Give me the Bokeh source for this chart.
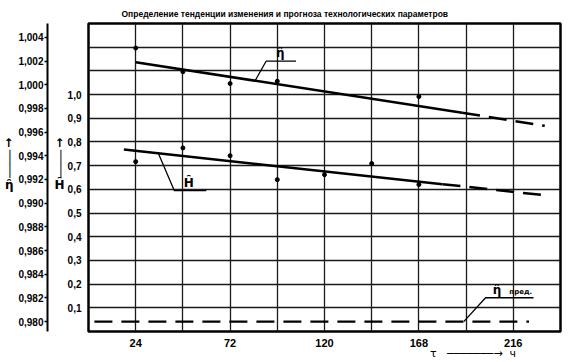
import numpy as np
from bokeh.plotting import figure
from bokeh.models import (Range1d, LinearAxis, FixedTicker, CustomJSTickFormatter, Label)
from bokeh.embed import file_html
from bokeh.resources import INLINE

# ---------------- data ----------------
title_text = "Определение тенденции  изменения и прогноза технологических параметров"
tau_ticks = [24, 72, 120, 168, 216]
tau_grid = [24, 48, 72, 96, 120, 144, 168, 192, 216]
eta_ticks = [0.980, 0.982, 0.984, 0.986, 0.988, 0.990, 0.992, 0.994, 0.996, 0.998, 1.000, 1.002, 1.004]
H_ticks = [0.1, 0.2, 0.3, 0.4, 0.5, 0.6, 0.7, 0.8, 0.9, 1.0]
H_grid = [0.1, 0.2, 0.3, 0.4, 0.5, 0.6, 0.7, 0.8, 0.9, 1.0, 1.1, 1.2]

# observed points
eta_obs_tau = [24, 48, 72, 96, 168]
eta_obs = [1.0031, 1.0011, 1.0001, 1.0003, 0.9990]
H_obs_tau = [24, 48, 72, 96, 120, 144, 168]
H_obs = [0.717, 0.775, 0.742, 0.641, 0.662, 0.709, 0.620]

# trend (solid) and forecast (dashed)
eta_trend_tau = [24, 190]
eta_trend = [1.0019, 0.99764]
eta_fc_tau = [190, 232]
eta_fc = [0.99764, 0.99653]
H_trend_tau = [18, 180]
H_trend = [0.768, 0.622]
H_fc_tau = [180, 232]
H_fc = [0.622, 0.575]
eta_limit_tau = [3, 224]
eta_limit = [0.980, 0.980]

# ---------------- figure ----------------
FONT = "Liberation Sans"
SYM = "DejaVu Sans"
NB = "\u00a0"
EM = "\u2003"
p = figure(width=571, height=362, output_backend="svg", toolbar_location=None,
           x_range=Range1d(0, 240), y_range=Range1d(0, 1.3),
           min_border_left=87, min_border_right=11, min_border_top=23, min_border_bottom=29)
p.extra_y_ranges = {"eta": Range1d(0.979161, 1.005175)}
p.outline_line_color = "black"
p.outline_line_width = 2.5
p.background_fill_color = "white"
p.border_fill_color = "white"

p.title.text = title_text
p.title.align = "left"
p.title.offset = 33
p.title.standoff = 10
p.title.text_font = FONT
p.title.text_font_style = "bold"
p.title.text_font_size = "8.5px"
p.title.text_color = "black"

p.xgrid.ticker = FixedTicker(ticks=tau_grid)
p.ygrid.ticker = FixedTicker(ticks=H_grid)
for g in (p.xgrid, p.ygrid):
    g.grid_line_color = "#1a1a1a"
    g.grid_line_width = 1.3

xa = p.xaxis[0]
xa.ticker = FixedTicker(ticks=tau_ticks)
xa.axis_line_color = None
xa.major_tick_out = 0
xa.major_tick_in = 0
xa.minor_tick_out = 0
xa.minor_tick_in = 0
xa.major_label_standoff = 7
xa.major_label_text_font = FONT
xa.major_label_text_font_style = "bold"
xa.major_label_text_font_size = "11px"
xa.major_label_text_color = "black"
xa.axis_label = EM * 27 + "\u03c4" + NB * 3 + "\u2500" * 7 + "\u2192" + NB * 2 + "ч"
xa.axis_label_align = "center"
xa.axis_label_standoff = -3
xa.axis_label_text_font = SYM
xa.axis_label_text_font_style = "normal"
xa.axis_label_text_font_size = "11px"
xa.axis_label_text_color = "black"

ya = p.yaxis[0]
ya.ticker = FixedTicker(ticks=H_ticks)
ya.formatter = CustomJSTickFormatter(code="return tick.toFixed(1).replace('.', ',')")
ya.axis_line_color = None
ya.major_tick_out = 0
ya.major_tick_in = 0
ya.minor_tick_out = 0
ya.minor_tick_in = 0
ya.major_label_standoff = 7
ya.major_label_text_font = FONT
ya.major_label_text_font_style = "bold"
ya.major_label_text_font_size = "10px"
ya.major_label_text_color = "black"
ya.axis_label = (NB + "\u2191\n" + NB + "\u2502\n" + NB + "\u2502\n" +
                 NB + "H\u0311\n" + NB + "\n" + NB)
ya.axis_label_orientation = "horizontal"
ya.axis_label_standoff = 0
ya.axis_label_text_font = SYM
ya.axis_label_text_font_style = "bold"
ya.axis_label_text_font_size = "12px"
ya.axis_label_text_line_height = 1.0
ya.axis_label_text_color = "black"

ea = LinearAxis(y_range_name="eta", ticker=FixedTicker(ticks=eta_ticks),
                formatter=CustomJSTickFormatter(code="return tick.toFixed(3).replace('.', ',')"))
ea.axis_line_color = "black"
ea.axis_line_width = 2
ea.major_tick_out = 3
ea.major_tick_in = 0
ea.minor_tick_out = 0
ea.minor_tick_in = 0
ea.major_tick_line_width = 1.5
ea.major_label_standoff = 1
ea.major_label_text_font = FONT
ea.major_label_text_font_style = "bold"
ea.major_label_text_font_size = "10px"
ea.major_label_text_color = "black"
ea.axis_label = "\u2191\n\u2502\n\u2502\n\u03b7\u0311\n" + NB + "\n" + NB
ea.axis_label_orientation = "horizontal"
ea.axis_label_standoff = 2
ea.axis_label_text_font = SYM
ea.axis_label_text_font_style = "bold"
ea.axis_label_text_font_size = "12px"
ea.axis_label_text_line_height = 1.0
ea.axis_label_text_color = "black"
p.add_layout(ea, "left")

# ---------------- marks ----------------
p.line(eta_trend_tau, eta_trend, y_range_name="eta", line_color="black", line_width=2.5)
p.line(eta_fc_tau, eta_fc, y_range_name="eta", line_color="black", line_width=2.5, line_dash="18 9")
p.line(H_trend_tau, H_trend, line_color="black", line_width=2.5)
p.line(H_fc_tau, H_fc, line_color="black", line_width=2.5, line_dash="18 9")
p.line(eta_limit_tau, eta_limit, y_range_name="eta", line_color="black", line_width=2.2, line_dash="18 9")
p.scatter(eta_obs_tau, eta_obs, y_range_name="eta", size=4, color="black")
p.scatter(H_obs_tau, H_obs, size=4, color="black")

# ---------------- callouts ----------------
def callout(anchor_tau, tr_tau, tr_val, elbow, end_tau, rng):
    ay = float(np.interp(anchor_tau, tr_tau, tr_val))
    kw = {"y_range_name": rng} if rng != "default" else {}
    p.line([anchor_tau, elbow[0], end_tau], [ay, elbow[1], elbow[1]],
           line_color="black", line_width=1.3, **kw)

callout(84.7, eta_trend_tau, eta_trend, (90.3, 1.00199), 105.5, "eta")
callout(35.5, H_trend_tau, H_trend, (43.6, 0.595), 59.9, "default")
callout(190.8, eta_limit_tau, eta_limit, (201.9, 0.98201), 226.3, "eta")

lab_kw = dict(text_font=SYM, text_font_style="bold", text_color="black")
p.add_layout(Label(x=97.5, y=1.00199, y_range_name="eta", text="\u03b7\u0311", text_align="center",
                   text_baseline="bottom", y_offset=1, text_font_size="12px", **lab_kw))
p.add_layout(Label(x=51, y=0.595, text="H\u0311", text_align="center",
                   text_baseline="bottom", y_offset=1, text_font_size="12px", **lab_kw))
p.add_layout(Label(x=205.5, y=0.98201, y_range_name="eta", text="\u03b7\u0311", text_align="left",
                   text_baseline="bottom", y_offset=1, text_font_size="12px", **lab_kw))
p.add_layout(Label(x=214, y=0.98201, y_range_name="eta", text="пред.", text_align="left",
                   text_baseline="bottom", y_offset=2, text_font_size="7px", **lab_kw))

open("out.html", "w").write(file_html(p, INLINE))
